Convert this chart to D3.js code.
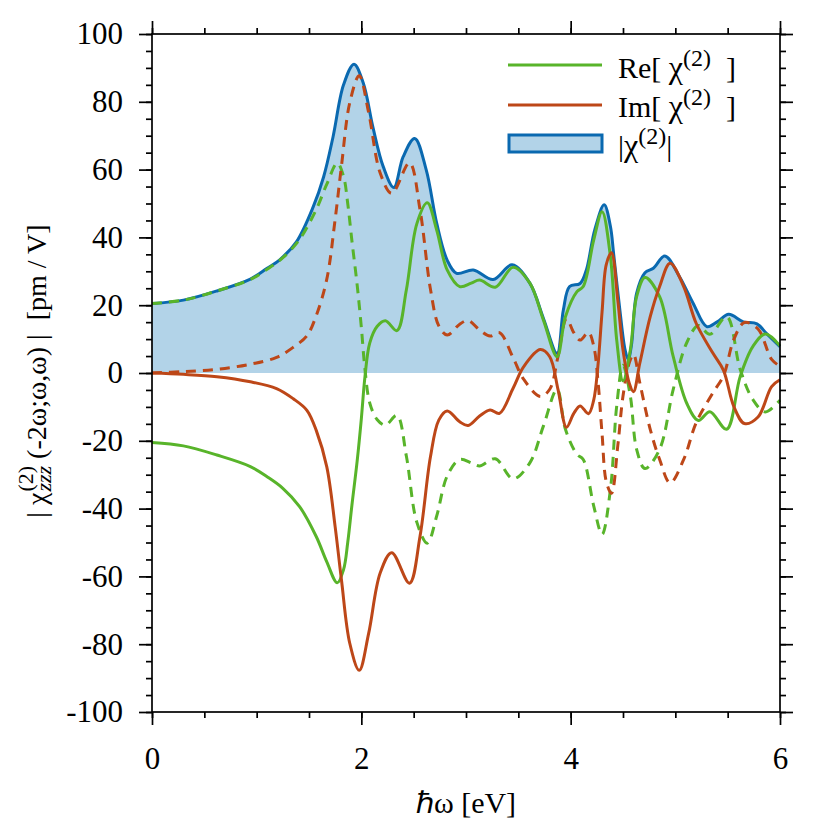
<!DOCTYPE html>
<html>
<head>
<meta charset="utf-8">
<script src="https://cdn.jsdelivr.net/npm/d3@7"></script>
<style>
  body { margin: 0; background: #fff; }
  text { font-family: "Liberation Serif", "Times New Roman", serif; fill: #000; white-space: pre; }
</style>
</head>
<body>
<script>
// [energy eV, value pm/V]
const reData = [[0,-20.5],[0.3,-21.5],[0.62,-24.2],[0.94,-27.6],[1.1,-30.6],[1.25,-34],[1.41,-39.4],[1.57,-48.3],[1.67,-55.7],
  [1.77,-61.9],[1.83,-58],[1.87,-50],[1.91,-39],[1.96,-26],[2.0,-13.5],[2.035,-1],[2.08,8.8],[2.15,13.7],[2.23,15.4],
  [2.34,12.5],[2.43,24.5],[2.53,44],[2.63,50.2],[2.72,42.2],[2.82,30.4],[2.94,25.5],[3.05,26.5],[3.13,27.4],[3.28,25.3],
  [3.45,31.2],[3.61,26.5],[3.74,15.6],[3.87,4.8],[3.95,16.6],[4.06,24],[4.12,25.5],[4.22,39.2],[4.3,47.6],[4.38,34.3],
  [4.44,9.7],[4.5,-2.3],[4.57,6.8],[4.63,22.5],[4.71,28.2],[4.85,22.5],[4.98,4.8],[5.11,-9],[5.22,-14],[5.33,-11.4],
  [5.49,-16.6],[5.62,-1],[5.74,7.8],[5.86,11.5],[6,8]]
const imData = [[0,0],[0.3,-0.4],[0.62,-1.1],[0.94,-2.6],[1.19,-4.6],[1.35,-7.6],[1.48,-11],[1.57,-17],[1.67,-27.7],
  [1.75,-45.4],[1.81,-61],[1.89,-79.8],[1.98,-87.7],[2.07,-76.8],[2.18,-59],[2.29,-53],[2.46,-62],[2.56,-48.3],[2.66,-24.8],
  [2.74,-13.9],[2.82,-11.2],[2.94,-14.4],[3.02,-15.5],[3.13,-12.7],[3.23,-10.9],[3.32,-11.9],[3.45,-4.5],[3.55,1.8],
  [3.71,6.9],[3.8,4.8],[3.88,-5],[3.96,-16],[4.03,-11.9],[4.09,-9.7],[4.17,-12],[4.22,-8],[4.26,2],[4.3,18],[4.34,32],
  [4.39,35.5],[4.45,21.5],[4.5,6.8],[4.56,-3],[4.6,-5.5],[4.66,2.8],[4.76,16.6],[4.85,25.5],[4.95,32.4],[5.08,25.5],
  [5.2,14.6],[5.36,5.8],[5.46,0.8],[5.56,-10],[5.66,-14.9],[5.79,-13],[5.92,-4],[6,-2]]
const absData = [[0,20.5],[0.3,21.5],[0.62,24.2],[0.94,27.7],[1.1,30.9],[1.22,33.4],[1.38,38.7],[1.54,49],[1.64,57.9],
  [1.73,69.7],[1.83,85],[1.93,91.1],[2.02,85.4],[2.11,72.6],[2.21,60.8],[2.31,54.7],[2.4,63.8],[2.51,69.2],[2.62,59.9],
  [2.72,44.2],[2.82,33.3],[2.91,29.4],[3.07,30.4],[3.26,27.6],[3.44,31.9],[3.61,26.5],[3.74,16.1],[3.87,5.8],[3.93,18.6],
  [3.99,25.5],[4.09,26.4],[4.15,30.4],[4.23,42.2],[4.32,49.6],[4.38,43.2],[4.41,35.3],[4.47,18.6],[4.52,6.8],[4.55,4],
  [4.58,8],[4.63,23.5],[4.71,29.6],[4.79,30.9],[4.9,34.5],[5.04,28.4],[5.17,20.6],[5.3,13.7],[5.4,15.1],[5.51,17.3],
  [5.65,15.1],[5.78,14.5],[5.87,11.7],[6,7.8]]

const xMajor = [0, 2, 4, 6]
const xMinor = [0, 0.5, 1, 1.5, 2, 2.5, 3, 3.5, 4, 4.5, 5, 5.5, 6]
const yMajor = [-100, -80, -60, -40, -20, 0, 20, 40, 60, 80, 100]
const yMinor = d3.range(-100, 101, 5)
const legendNames = ["Re[ χ", "Im[ χ", "|χ"]

const green = "#58b42a"
const red = "#bd4718"
const blue = "#0a69b0"
const fillBlue = "#b2d3e8"

const w = 830, h = 830
const pLeft = 152, pRight = 780, pTop = 34, pBottom = 712

const x = d3.scaleLinear().domain([0, 6]).range([pLeft, pRight])
const y = d3.scaleLinear().domain([-100, 100]).range([pBottom, pTop])

const svg = d3.select("body").append("svg").attr("width", w).attr("height", h)

const curve = d3.curveCatmullRom.alpha(0.5)
const area = d3.area().x(d => x(d[0])).y0(y(0)).y1(d => y(d[1])).curve(curve)
const line = d3.line().x(d => x(d[0])).y(d => y(d[1])).curve(curve)
// dashed curves are the same series mirrored
const mirror = d3.line().x(d => x(d[0])).y(d => y(-d[1])).curve(curve)

svg.append("path").datum(absData).attr("d", area).attr("fill", fillBlue)
svg.append("path").datum(absData).attr("d", line).attr("fill", "none").attr("stroke", blue).attr("stroke-width", 3)

svg.append("path").datum(reData).attr("d", mirror).attr("fill", "none").attr("stroke", green)
   .attr("stroke-width", 3).attr("stroke-dasharray", "10,7")
svg.append("path").datum(imData).attr("d", mirror).attr("fill", "none").attr("stroke", red)
   .attr("stroke-width", 3).attr("stroke-dasharray", "10,7")
svg.append("path").datum(reData).attr("d", line).attr("fill", "none").attr("stroke", green).attr("stroke-width", 3)
svg.append("path").datum(imData).attr("d", line).attr("fill", "none").attr("stroke", red).attr("stroke-width", 3)

// axes: minor + major ticks on all four sides
function styleAxis(g) {
    g.select(".domain").remove()
    g.selectAll("line").attr("stroke", "#000").attr("stroke-width", 1.7)
    g.attr("font-family", null).attr("font-size", 31)
}
const fmt = d => String(d)
svg.append("g").attr("transform", `translate(0,${pBottom})`)
   .call(d3.axisBottom(x).tickValues(xMinor).tickSize(6).tickFormat("")).call(styleAxis)
svg.append("g").attr("transform", `translate(0,${pBottom})`)
   .call(d3.axisBottom(x).tickValues(xMajor).tickSize(13).tickPadding(22).tickFormat(fmt)).call(styleAxis)
svg.append("g").attr("transform", `translate(0,${pTop})`)
   .call(d3.axisTop(x).tickValues(xMinor).tickSize(6).tickFormat("")).call(styleAxis)
svg.append("g").attr("transform", `translate(0,${pTop})`)
   .call(d3.axisTop(x).tickValues(xMajor).tickSize(13).tickFormat("")).call(styleAxis)
svg.append("g").attr("transform", `translate(${pLeft},0)`)
   .call(d3.axisLeft(y).tickValues(yMinor).tickSize(6).tickFormat("")).call(styleAxis)
svg.append("g").attr("transform", `translate(${pLeft},0)`)
   .call(d3.axisLeft(y).tickValues(yMajor).tickSize(13).tickPadding(16).tickFormat(fmt)).call(styleAxis)
svg.append("g").attr("transform", `translate(${pRight},0)`)
   .call(d3.axisRight(y).tickValues(yMinor).tickSize(6).tickFormat("")).call(styleAxis)
svg.append("g").attr("transform", `translate(${pRight},0)`)
   .call(d3.axisRight(y).tickValues(yMajor).tickSize(13).tickFormat("")).call(styleAxis)

svg.append("rect").attr("x", pLeft).attr("y", pTop).attr("width", pRight - pLeft).attr("height", pBottom - pTop)
   .attr("fill", "none").attr("stroke", "#000").attr("stroke-width", 1.7)

// x title
svg.append("text").attr("x", (pLeft + pRight) / 2).attr("y", 813).attr("text-anchor", "middle")
   .attr("font-size", 30).text("ℏω [eV]")

// y title with stacked super/subscript
const yl = svg.append("g")
const p1 = yl.append("text").attr("font-size", 28).text("| χ")
let cx = p1.node().getComputedTextLength() + 1
const sup = yl.append("text").attr("x", cx).attr("y", -13).attr("font-size", 22).text("(2)")
const sub = yl.append("text").attr("x", cx).attr("y", 5).attr("font-size", 22).attr("font-style", "italic").text("zzz")
cx += Math.max(sup.node().getComputedTextLength(), sub.node().getComputedTextLength()) + 7
const p2 = yl.append("text").attr("x", cx).attr("font-size", 28).text("(-2ω;ω,ω) |  [pm / V]")
const total = cx + p2.node().getComputedTextLength()
yl.attr("transform", `translate(46,371) rotate(-90) translate(${-total / 2},0)`)

// legend
const lg = svg.append("g")
lg.append("line").attr("x1", 508).attr("x2", 602).attr("y1", 65).attr("y2", 65).attr("stroke", green).attr("stroke-width", 3)
lg.append("line").attr("x1", 508).attr("x2", 602).attr("y1", 105).attr("y2", 105).attr("stroke", red).attr("stroke-width", 3)
lg.append("rect").attr("x", 509).attr("y", 135).attr("width", 93).attr("height", 17)
  .attr("fill", fillBlue).attr("stroke", blue).attr("stroke-width", 3)
const ends = ["  ]", "  ]", "|"]
const baselines = [78, 117, 156]
legendNames.forEach((name, i) => {
    const t = lg.append("text").attr("x", 618).attr("y", baselines[i]).attr("font-size", 30)
    t.append("tspan").text(name.replace("χ", ""))
    t.append("tspan").attr("font-size", 32).text("χ")
    t.append("tspan").attr("dy", -12).attr("font-size", 24).text("(2)")
    t.append("tspan").attr("dy", 12).text(ends[i])
})
</script>
</body>
</html>
